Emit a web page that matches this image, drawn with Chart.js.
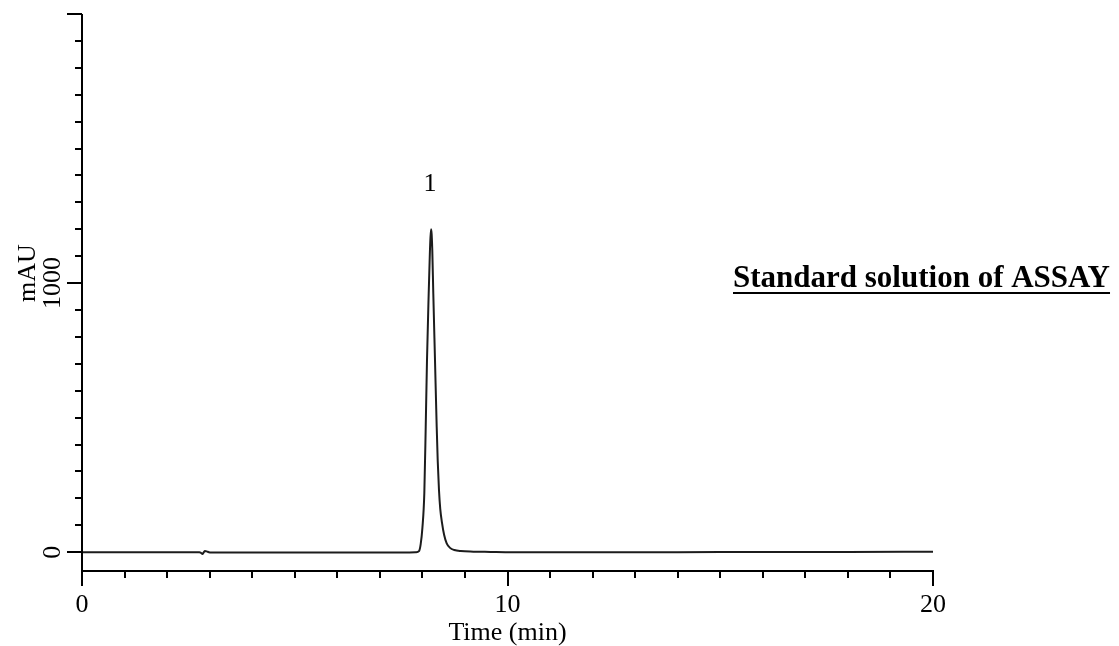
<!DOCTYPE html>
<html>
<head>
<meta charset="utf-8">
<script src="https://cdn.jsdelivr.net/npm/chart.js@4.4.0/dist/chart.umd.min.js"></script>
<style>
html,body{margin:0;padding:0;background:#fff;overflow:hidden}
#wrap{width:1119px;height:646px;position:relative}
</style>
</head>
<body>
<div id="wrap"><canvas id="c"></canvas></div>
<script>
// ---- data ----
const timeMin = [0, 1.0, 2.0, 2.6, 2.76, 2.80, 2.83, 2.86, 2.89, 2.93, 2.98, 3.05, 3.3, 4, 5, 6, 7, 7.6,
  7.85, 7.92, 7.96, 8.0, 8.045, 8.078, 8.108, 8.148, 8.175, 8.19, 8.205, 8.218, 8.232, 8.256, 8.296, 8.336,
  8.36, 8.39, 8.42, 8.46, 8.51, 8.571, 8.65, 8.75, 8.9, 9.2, 9.6, 10, 12, 14, 16, 18, 20];
const absorbanceMAU = [0, 0, 0, 0, 0, -3, -7, -1, 4, 3, 0, -1, -1, -1, -1, -1, -1, -1,
  0, 4, 30, 90, 219, 466, 714, 962, 1110, 1170, 1200, 1180, 1125, 962, 714, 466,
  340, 230, 160, 110, 65, 33, 16, 8, 4, 2, 1, 0, 0, 0, 1, 1, 2];

const xTickValues = [0, 10, 20];
const xTickLabels = ['0', '10', '20'];
const yTickValues = [0, 1000];
const yTickLabels = ['0', '1000'];
const peakTimes = [8.205];
const peakHeights = [1200];
const peakLabels = ['1'];
const xAxisTitle = 'Time (min)';
const yAxisTitle = 'mAU';
const sampleTitle = 'Standard solution of ASSAY';

const X_MIN = 0, X_MAX = 20, Y_MIN = -70, Y_MAX = 2000;
const X_MINOR = 1, X_MAJOR = 10, Y_MINOR = 100, Y_MAJOR = 1000;
const SERIF = "'Liberation Serif', 'Times New Roman', serif";

const axisPlugin = {
  id: 'chromAxes',
  afterDraw(chart) {
    const {ctx, chartArea: a, scales: {x, y}} = chart;
    ctx.save();
    ctx.strokeStyle = '#000';
    ctx.lineWidth = 2;
    ctx.lineCap = 'butt';
    const yTop = y.getPixelForValue(Y_MAX);
    // axis lines
    ctx.beginPath();
    ctx.moveTo(a.left, yTop); ctx.lineTo(a.left, a.bottom);
    ctx.moveTo(a.left - 1, a.bottom); ctx.lineTo(x.getPixelForValue(X_MAX) + 1, a.bottom);
    ctx.stroke();
    // x ticks
    ctx.beginPath();
    for (let t = X_MIN; t <= X_MAX + 1e-9; t += X_MINOR) {
      const px = Math.round(x.getPixelForValue(t));
      const len = (Math.abs(t % X_MAJOR) < 1e-9) ? 15 : 7;
      ctx.moveTo(px, a.bottom); ctx.lineTo(px, a.bottom + len);
    }
    // y ticks
    for (let v = 0; v <= Y_MAX + 1e-9; v += Y_MINOR) {
      const py = Math.round(y.getPixelForValue(v));
      const len = (Math.abs(v % Y_MAJOR) < 1e-9) ? 15 : 7;
      ctx.moveTo(a.left - len, py); ctx.lineTo(a.left, py);
    }
    ctx.stroke();

    // rotated y tick labels
    ctx.fillStyle = '#000';
    ctx.font = '26px ' + SERIF;
    ctx.textAlign = 'center';
    ctx.textBaseline = 'alphabetic';
    yTickValues.forEach((v, i) => {
      ctx.save();
      ctx.translate(60, y.getPixelForValue(v));
      ctx.rotate(-Math.PI / 2);
      ctx.fillText(yTickLabels[i], 0, 0);
      ctx.restore();
    });
    // rotated y title
    ctx.save();
    ctx.translate(35, 273);
    ctx.rotate(-Math.PI / 2);
    ctx.fillText(yAxisTitle, 0, 0);
    ctx.restore();

    // peak labels
    peakTimes.forEach((t, i) => {
      ctx.fillText(peakLabels[i], x.getPixelForValue(t) - 1, y.getPixelForValue(peakHeights[i]) - 38);
    });

    // sample title (bold, underlined)
    ctx.font = 'bold 31px ' + SERIF;
    ctx.textAlign = 'left';
    const tx = 733, ty = 287;
    ctx.fillText(sampleTitle, tx, ty);
    const w = ctx.measureText(sampleTitle).width;
    ctx.fillRect(tx, ty + 5, w, 2);
    ctx.restore();
  }
};

new Chart(document.getElementById('c'), {
  type: 'line',
  data: {
    datasets: [{
      data: timeMin.map((t, i) => ({x: t, y: absorbanceMAU[i]})),
      borderColor: '#1c1c1c',
      borderWidth: 2,
      pointRadius: 0,
      cubicInterpolationMode: 'monotone',
      fill: false
    }]
  },
  options: {
    responsive: true,
    maintainAspectRatio: false,
    animation: false,
    layout: {padding: {left: 82, right: 186, top: 14, bottom: 0}},
    plugins: {legend: {display: false}, tooltip: {enabled: false}},
    scales: {
      x: {
        type: 'linear', min: X_MIN, max: X_MAX,
        grid: {display: false, drawTicks: false},
        border: {display: false},
        ticks: {
          stepSize: X_MAJOR, padding: 19, color: '#000', maxRotation: 0,
          font: {family: SERIF, size: 26},
          callback: (v) => { const i = xTickValues.indexOf(v); return i >= 0 ? xTickLabels[i] : ''; }
        },
        title: {display: true, text: xAxisTitle, color: '#000', font: {family: SERIF, size: 26}, padding: {top: 0, bottom: -3}},
        afterFit: (s) => { s.height = 75; }
      },
      y: {type: 'linear', min: Y_MIN, max: Y_MAX, display: false}
    }
  },
  plugins: [axisPlugin]
});
</script>
</body>
</html>
